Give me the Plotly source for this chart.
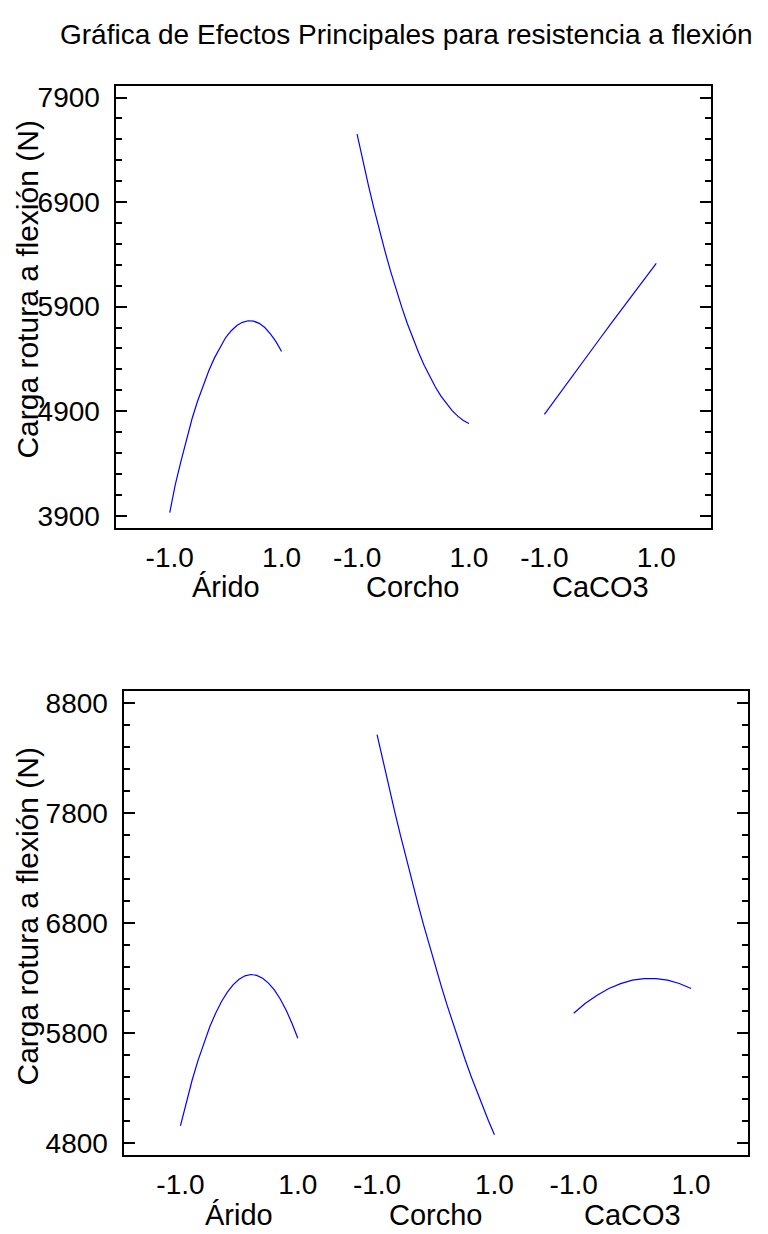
import plotly.graph_objects as go

# ---------------- data ----------------
factors = ["Árido", "Corcho", "CaCO3"]
group_offset = [0.0, 3.35, 6.70]

x_fine = [-1.0, -0.9, -0.8, -0.7, -0.6, -0.5, -0.4, -0.3, -0.2, -0.1, 0.0,
          0.1, 0.2, 0.3, 0.4, 0.5, 0.6, 0.7, 0.8, 0.9, 1.0]
x_coarse = [-1.0, -0.8, -0.6, -0.4, -0.2, 0.0, 0.2, 0.4, 0.6, 0.8, 1.0]

# top chart
top_arido = [3931, 4200, 4420, 4630, 4830, 5000, 5150, 5290, 5410, 5515, 5605,
             5670, 5720, 5750, 5765, 5762, 5740, 5700, 5640, 5565, 5471]
top_corcho = [7550, 7302, 7067, 6842, 6629, 6428, 6238, 6060, 5893, 5737, 5593,
              5461, 5339, 5230, 5132, 5044, 4969, 4906, 4853, 4812, 4783]
top_caco3 = [4869, 5013, 5160, 5308, 5455, 5600, 5745, 5888, 6030, 6172, 6313]

# bottom chart
bot_arido = [4954, 5172, 5371, 5550, 5712, 5855, 5979, 6085, 6171, 6239, 6288,
             6319, 6331, 6323, 6297, 6253, 6190, 6108, 6007, 5888, 5751]
bot_corcho = [8514, 8275, 8042, 7815, 7594, 7379, 7169, 6966, 6769, 6578, 6393,
              6214, 6041, 5874, 5713, 5557, 5408, 5265, 5128, 4997, 4872]
bot_caco3 = [5978, 6069, 6143, 6204, 6248, 6279, 6294, 6294, 6279, 6249, 6204]

tick_labels = ["-1.0", "1.0"]
title_text = "Gráfica de Efectos Principales para resistencia a flexión"
y_title = "Carga rotura a flexión (N)"

W, H = 768, 1234
FONT = "Liberation Sans, Arial, sans-serif"
BLUE = "#0000FF"

fig = go.Figure()

def add_group(xs, ys, g, xa, ya):
    fig.add_trace(go.Scatter(
        x=[v + group_offset[g] for v in xs], y=ys, mode="lines",
        line=dict(color=BLUE, width=1.2), xaxis=xa, yaxis=ya,
        showlegend=False, hoverinfo="skip"))

add_group(x_fine, top_arido, 0, "x", "y")
add_group(x_fine, top_corcho, 1, "x", "y")
add_group(x_coarse, top_caco3, 2, "x", "y")
add_group(x_fine, bot_arido, 0, "x2", "y2")
add_group(x_fine, bot_corcho, 1, "x2", "y2")
add_group(x_coarse, bot_caco3, 2, "x2", "y2")

tickvals = []
ticktext = []
for off in group_offset:
    tickvals += [off - 1.0, off + 1.0]
    ticktext += tick_labels

def px_x(p):
    return p / W

def px_y(p):
    return 1 - p / H

xcommon = dict(range=[-1.97, 8.67], showgrid=False, zeroline=False,
               showline=True, linecolor="black", linewidth=2, mirror=True,
               ticks="", tickvals=tickvals, ticktext=ticktext,
               tickfont=dict(family=FONT, size=28, color="black"),
               ticklabelstandoff=3)
ycommon = dict(showgrid=False, zeroline=False, showline=True,
               linecolor="black", linewidth=2, mirror="ticks",
               ticks="inside", ticklen=11, tickwidth=2, tickcolor="black",
               dtick=1000,
               minor=dict(ticks="inside", ticklen=6, tickwidth=2,
                          tickcolor="black", dtick=200, showgrid=False),
               tickfont=dict(family=FONT, size=28, color="black"),
               ticklabelstandoff=8)

fig.update_layout(
    width=W, height=H, autosize=False,
    margin=dict(l=0, r=0, t=0, b=0),
    paper_bgcolor="white", plot_bgcolor="white",
    xaxis=dict(xcommon, domain=[px_x(115.5), px_x(710.5)], anchor="y"),
    yaxis=dict(ycommon, domain=[px_y(528), px_y(83)], anchor="x",
               range=[3779, 8014], tick0=3900,
               minor=dict(ycommon["minor"], tick0=3900)),
    xaxis2=dict(xcommon, domain=[px_x(123.5), px_x(748)], anchor="y2"),
    yaxis2=dict(ycommon, domain=[px_y(1158), px_y(691)], anchor="x2",
                range=[4685, 8914], tick0=4800,
                minor=dict(ycommon["minor"], tick0=4800)),
)

ann = []
ann.append(dict(text=title_text, xref="paper", yref="paper",
                x=px_x(406), y=px_y(32), xanchor="center", yanchor="middle",
                showarrow=False, font=dict(family=FONT, size=28, color="black")))
for ycen in (288, 918):
    ann.append(dict(text=y_title, xref="paper", yref="paper",
                    x=px_x(28), y=px_y(ycen), xanchor="center", yanchor="middle",
                    textangle=-90, showarrow=False,
                    font=dict(family=FONT, size=30, color="black")))
for g, name in enumerate(factors):
    ann.append(dict(text=name, xref="x", yref="paper", x=group_offset[g],
                    y=px_y(587), xanchor="center", yanchor="middle",
                    showarrow=False, font=dict(family=FONT, size=29, color="black")))
    ann.append(dict(text=name, xref="x2", yref="paper", x=group_offset[g],
                    y=px_y(1218), xanchor="center", yanchor="middle",
                    showarrow=False, font=dict(family=FONT, size=29, color="black")))
fig.update_layout(annotations=ann)

fig.write_html("out.html")
